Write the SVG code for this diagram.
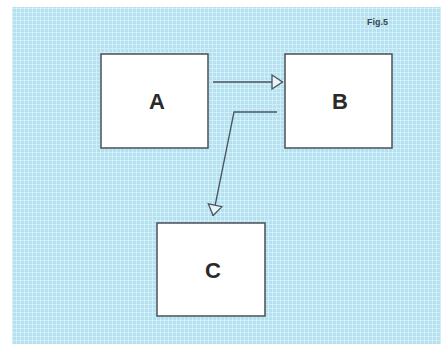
<svg xmlns="http://www.w3.org/2000/svg" width="441" height="347" viewBox="0 0 441 347">
<style>
.node rect{fill:#ffffff;stroke:#4a4f55;stroke-width:1.5}
.node text{font-family:"Liberation Sans",Arial,sans-serif;font-weight:bold;font-size:22px;fill:#2a2a2a;text-anchor:middle;dominant-baseline:central}
.conn{fill:none;stroke:#4a5560;stroke-width:1.3}
.fig{font-family:"Liberation Sans",Arial,sans-serif;font-weight:bold;font-size:9px;fill:#3a4550}
</style>
<defs>
<marker id="tri" viewBox="0 0 12 16" refX="12" refY="8" markerWidth="12" markerHeight="16" markerUnits="userSpaceOnUse" orient="auto">
<path d="M1,1 L11.5,8 L1,15 Z" fill="#e8f4f8" stroke="#4a5560" stroke-width="1.3"/>
</marker>
<pattern id="tex" width="4" height="4" patternUnits="userSpaceOnUse">
<rect width="4" height="4" fill="#b3e1f1"/>
<path d="M0,0.5 H4 M0.5,0 V4" stroke="#d8f1f9" stroke-width="0.8"/>
</pattern>
</defs>
<rect x="12" y="7" width="429" height="337" fill="url(#tex)"/>
<text class="fig" x="367" y="25">Fig.5</text>
<g id="nodeA" class="node"><rect x="101" y="54" width="107" height="94"/><text x="157" y="101">A</text></g>
<g id="nodeB" class="node"><rect x="285" y="54" width="107" height="94"/><text x="340" y="101">B</text></g>
<g id="nodeC" class="node"><rect x="157" y="223" width="108" height="93"/><text x="213" y="270">C</text></g>
<g id="connectors">
<path class="conn" d="M213,82 H283" marker-end="url(#tri)"/>
<path class="conn" d="M277,112 H234 L213,216" marker-end="url(#tri)"/>
</g>
</svg>
